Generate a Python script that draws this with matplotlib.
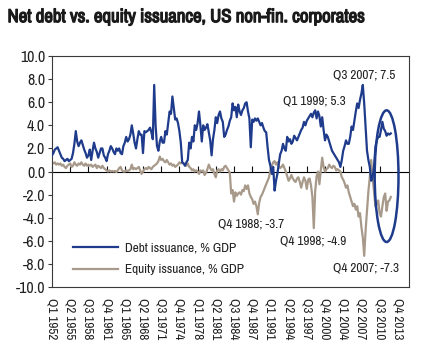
import matplotlib.pyplot as plt
import matplotlib.patheffects as pe
from matplotlib import font_manager
from matplotlib.patches import Ellipse
import numpy as np

# pick a narrow face if one is installed, else Liberation Sans
names = sorted({f.name for f in font_manager.fontManager.ttflist})
narrow = [n for n in names if 'Narrow' in n or 'Condensed' in n]
plt.rcParams['font.family'] = [narrow[0] if narrow else 'Liberation Sans', 'DejaVu Sans']
plt.rcParams['axes.unicode_minus'] = False

# quarterly values, % GDP, Q1 1952 .. Q3 2012
debt = [
    1.4, 1.6, 1.9, 2.0,   2.1, 1.8, 1.5, 1.2,   1.1, 0.9, 1.0, 1.1,   0.9, 1.0, 1.1, 1.6,   # 1952-55
    2.4, 3.5, 2.6, 2.2,   2.5, 2.7, 2.3, 1.9,   1.6, 1.2, 1.4, 1.9,   1.0, 1.8, 2.5, 2.0,   # 1956-59
    1.7, 1.2, 1.6, 2.0,   2.0, 1.4, 1.2, 0.9,   1.5, 1.8, 2.2, 2.0,   1.7, 1.5, 2.0, 1.8,   # 1960-63
    2.0, 1.6, 1.5, 2.2,   2.5, 3.0, 2.6, 2.8,   3.2, 4.0, 3.3, 2.5,   2.0, 2.8, 3.5, 3.2,   # 1964-67
    3.2, 1.6, 3.5, 3.4,   3.5, 3.6, 3.8, 3.4,   2.8, 7.5, 4.0, 2.2,   1.8, 2.6, 3.0, 2.5,   # 1968-71
    2.5, 3.5, 3.2, 4.2,   5.2, 5.0, 6.5, 5.5,   4.5, 4.6, 4.2, 3.5,   2.5, 0.8, 0.7, 0.5,   # 1972-75
    0.8, 1.0, 2.5, 2.0,   3.0, 2.6, 4.0, 3.6,   4.2, 5.2, 4.0, 2.6,   4.0, 3.6, 3.8, 4.1,   # 1976-79
    3.4, 2.7, 1.4, 2.8,   3.6, 4.7, 4.2, 4.9,   5.2, 4.6, 4.3, 3.0,   3.2, 3.6, 3.9, 4.4,   # 1980-83
    4.7, 5.9, 5.3, 5.6,   4.7, 5.8, 5.2, 4.9,   5.3, 5.5, 5.9, 6.0,   5.2, 4.6, 2.1, 4.5,   # 1984-87
    4.3, 4.6, 4.4, 4.6,   4.3, 4.0, 4.2, 3.8,   3.5, 3.4, 2.1, 1.0,   0.5, -0.2, 0.4, -1.65,  # 1988-91
    -0.8, -0.2, 0.7, 1.5,  1.8, 2.4, 2.0, 1.8,   3.0, 2.6, 2.8, 2.4,   2.6, 3.1, 2.9, 2.7,   # 1992-95
    3.0, 3.3, 3.6, 3.8,   4.3, 4.0, 4.4, 4.6,   4.8, 5.0, 4.7, 5.1,   5.3, 4.6, 5.2, 4.8,   # 1996-99
    3.9, 4.7, 3.6, 2.7,   3.2, 3.0, 2.6, 2.2,   1.8, 1.6, 1.4, 1.2,   1.0, 0.8, 0.4, 1.0,   # 2000-03
    1.8, 2.2, 2.7, 2.4,   2.4, 3.0, 3.9, 3.6,   4.4, 5.2, 5.9, 5.5,   6.2, 6.75, 7.5, 5.9,  # 2004-07
    3.9, 1.8, 1.0, 0.4,   -0.8, -0.5, 0.4, 2.1,  2.7, 3.0, 3.0, 3.6,   4.3, 3.7, 3.5, 3.1,  # 2008-11
    3.3, 3.2, 3.3,                                                                           # 2012
]
equity = [
    0.8, 0.7, 0.8, 0.6,   0.7, 0.6, 0.7, 0.5,   0.6, 0.4, 0.3, 0.5,   0.6, 0.7, 0.4, 0.5,   # 1952-55
    0.8, 0.6, 0.5, 0.7,   0.6, 0.8, 0.6, 0.5,   0.7, 0.5, 0.6, 0.5,   0.6, 0.4, 0.5, 0.6,   # 1956-59
    0.3, 0.5, 0.4, 0.3,   0.5, 0.3, 0.2, 0.1,   0.0, 0.1, 0.0, 0.05,  0.0, 0.05, -0.05, 0.1, # 1960-63
    0.3, 0.4, 0.1, 0.0,   0.0, 0.1, 0.05, 0.1,  0.2, 0.6, 0.2, 0.3,   0.2, 0.3, 0.4, 0.1,   # 1964-67
    -0.2, 0.0, 0.2, 0.3,  0.2, 0.4, 0.3, 0.2,   0.4, 0.5, 0.6, 0.7,   0.9, 1.3, 1.0, 1.1,   # 1968-71
    0.9, 0.8, 1.0, 0.8,   0.6, 0.7, 0.5, 0.6,   0.4, 0.5, 0.6, 0.8,   0.7, 0.8, 0.7, 0.6,   # 1972-75
    0.5, 0.7, 0.4, 0.3,   0.1, 0.2, 0.0, 0.1,   0.0, -0.2, 0.1, 0.0,  0.1, -0.3, -0.1, 0.2, # 1976-79
    0.6, 0.3, 0.1, 0.2,   -0.2, -0.5, 0.1, 0.2,  0.0, 0.2, 0.1, 0.4,  0.5, 0.3, 0.1, -0.1,  # 1980-83
    -1.9, -1.6, -2.6, -1.8,  -2.1, -1.9, -1.8, -2.0,  -1.6, -1.7, -1.2, -1.5,  -1.2, -1.9, -2.2, -2.4,  # 1984-87
    -2.8, -2.6, -3.0, -3.7,  -2.7, -2.2, -2.0, -1.7,  -1.4, -1.1, -0.8, -0.5,  0.1, 0.5, 0.8, 0.9,     # 1988-91
    0.6, 0.8, 0.5, 0.3,   0.4, 0.6, 0.3, 0.0,   -0.4, -0.8, -0.6, -0.3,  -0.6, -0.8, -0.9, -0.6,   # 1992-95
    -0.5, -0.9, -1.4, -0.9,  -0.5, -0.8, -1.5, -0.7,  -0.6, -1.2, -2.2, -4.9,  -1.7, -0.4, 0.0, -1.1, # 1996-99
    0.1, 1.2, 0.4, 0.0,   0.2, 0.3, 0.6, 0.4,   0.3, 0.5, 0.4, 0.1,   0.2, 0.1, 0.0, -0.5,   # 2000-03
    -0.7, -1.0, -1.4, -1.2,  -1.8, -2.2, -2.6, -3.0,  -2.8, -3.3, -3.0, -3.9,  -3.6, -4.8, -5.7, -7.3, # 2004-07
    -5.1, -3.4, -1.7, -0.5,  1.0, -0.5, -1.7, -3.0,  -2.8, -2.5, -3.6, -3.9,  -3.0, -2.2, -1.9, -3.4, # 2008-11
    -2.6, -2.5, -2.2,                                                                               # 2012
]
tick_labels = ['Q1 1952', 'Q2 1955', 'Q3 1958', 'Q4 1961', 'Q1 1965', 'Q2 1968',
               'Q3 1971', 'Q4 1974', 'Q1 1978', 'Q2 1981', 'Q3 1984', 'Q4 1987',
               'Q1 1991', 'Q2 1994', 'Q3 1997', 'Q4 2000', 'Q1 2004', 'Q2 2007',
               'Q3 2010', 'Q4 2013']

blue = '#1f3c8c'
grey = '#a89a8b'
dark = '#3a3a3a'
fs = 9.5 if narrow else 7.5

fig = plt.figure(figsize=(4.21, 3.57), dpi=100)
ax = fig.add_axes([0.1235, 0.196, 0.848, 0.647])

x = np.arange(len(debt))
ax.plot(x, debt, color=blue, lw=1.6, label='Debt issuance, % GDP', zorder=3)
ax.plot(x, equity, color=grey, lw=1.6, label='Equity issuance, % GDP', zorder=2)

ax.set_xlim(0, 255)
ax.set_ylim(-10, 10)
ax.set_yticks(np.arange(-10, 10.1, 2))
ax.set_yticklabels([f'{v:.1f}' for v in np.arange(-10, 10.1, 2)])
ax.tick_params(axis='y', length=3, width=0.8, color=dark, labelsize=fs + 2,
               labelcolor='#222222', pad=2)

ax.set_xticks(np.arange(len(tick_labels)) * 13)
ax.set_xticklabels(tick_labels, rotation=-90)
ax.tick_params(axis='x', length=0, labelsize=fs, labelcolor='#222222', pad=8)

for s in ax.spines.values():
    s.set_color(dark)
    s.set_linewidth(0.8)

# zero line carrying the tick marks
zero = ax.secondary_xaxis(0.5)
zero.set_xticks(np.arange(len(tick_labels)) * 13)
zero.set_xticklabels([])
zero.tick_params(length=4, width=0.8, color='#111111', direction='out')
zero.spines['bottom'].set_color('#111111')
zero.spines['bottom'].set_linewidth(0.9)

# circle around the recent period
ax.add_patch(Ellipse((239, -0.4), 17, 11.4, fill=False, edgecolor=blue, lw=1.8, zorder=4))

notes = [
    ('Q3 2007; 7.5', 223, 8.35),
    ('Q1 1999; 5.3', 187.5, 6.1),
    ('Q4 1988; -3.7', 142, -4.5),
    ('Q4 1998; -4.9', 186.5, -6.0),
    ('Q4 2007; -7.3', 224.5, -8.35),
]
for txt, tx, ty in notes:
    ax.text(tx, ty, txt, ha='center', va='center', fontsize=fs, color='#222222')

ax.legend(loc='lower left', bbox_to_anchor=(0.026, 0.0), frameon=False,
          fontsize=fs, handlelength=3.4, handletextpad=0.5, labelspacing=0.8,
          labelcolor='#222222')

fig.text(0.018, 0.952, 'Net debt vs. equity issuance, US non-fin. corporates',
         fontsize=13.5 if narrow else 10, fontweight='bold', color='#1a1a1a',
         ha='left', va='center',
         path_effects=[pe.withStroke(linewidth=0.9, foreground='#1a1a1a')])

fig.savefig('out.png', dpi=100)
